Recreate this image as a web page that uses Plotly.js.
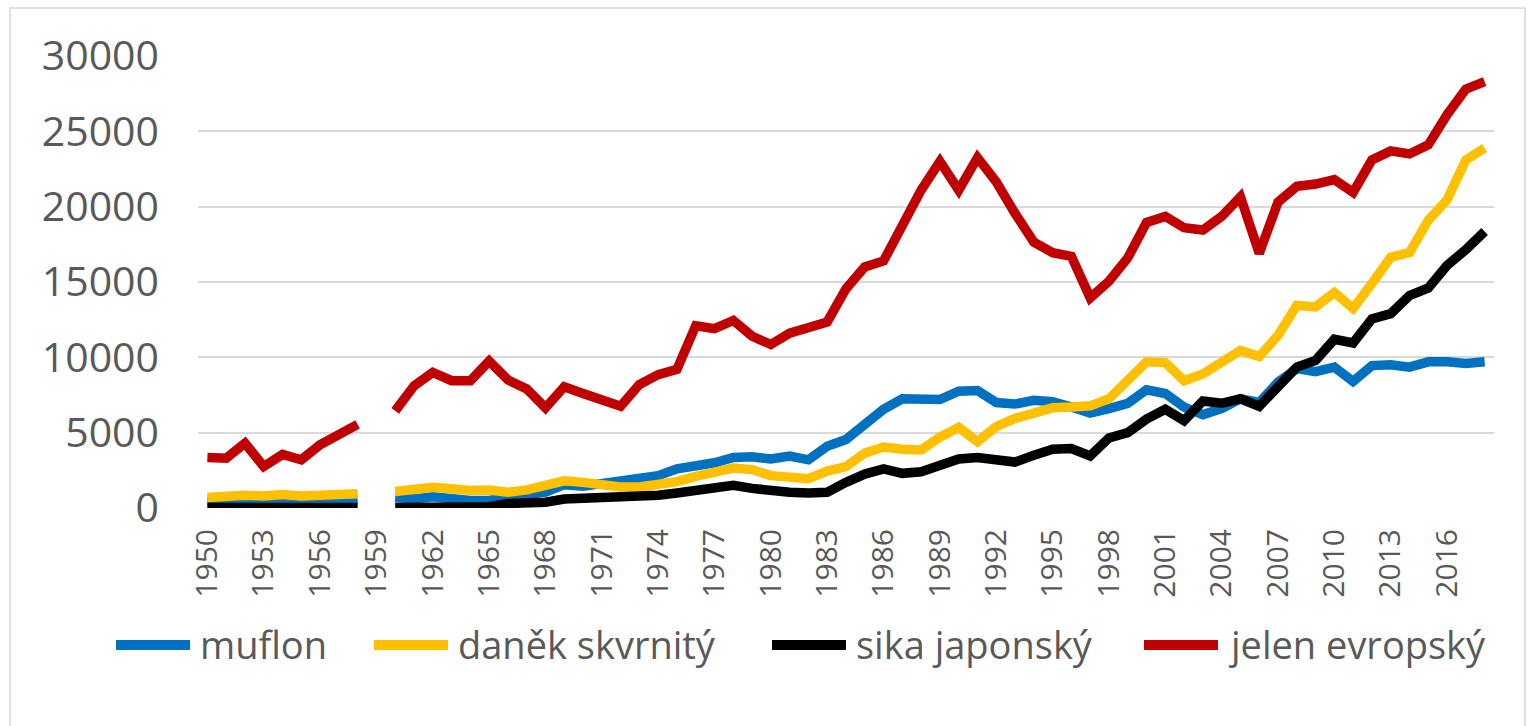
<!DOCTYPE html>
<html>
<head>
<meta charset="utf-8">
<script src="https://cdn.plot.ly/plotly-3.0.1.min.js"></script>
<style>
  html, body { margin: 0; padding: 0; background: #ffffff; }
  #chart { width: 1533px; height: 726px; }
</style>
</head>
<body>
<div id="chart"></div>
<script>
// Categories (years); 1959 has no data
var years = [1950,1951,1952,1953,1954,1955,1956,1957,1958,1959,
             1960,1961,1962,1963,1964,1965,1966,1967,1968,1969,
             1970,1971,1972,1973,1974,1975,1976,1977,1978,1979,
             1980,1981,1982,1983,1984,1985,1986,1987,1988,1989,
             1990,1991,1992,1993,1994,1995,1996,1997,1998,1999,
             2000,2001,2002,2003,2004,2005,2006,2007,2008,2009,
             2010,2011,2012,2013,2014,2015,2016,2017,2018];

var tickYears = [1950,1953,1956,1959,1962,1965,1968,1971,1974,1977,1980,1983,
                 1986,1989,1992,1995,1998,2001,2004,2007,2010,2013,2016];

var yTicks = [0, 5000, 10000, 15000, 20000, 25000, 30000];

var seriesNames = ["muflon", "daněk skvrnitý", "sika japonský", "jelen evropský"];
var seriesColors = ["#0070C0", "#FFC000", "#000000", "#C00000"];

var muflon = [400,450,500,450,500,450,500,500,550,null,
              700,600,750,600,500,500,750,900,1050,1550,
              1450,1650,1850,2050,2150,2600,2750,3000,3350,3400,
              3250,3450,3200,4100,4550,5550,6550,7250,7250,7200,
              7750,7800,7000,6900,7150,7050,6700,6300,6600,6950,
              7850,7600,6700,6200,6600,7250,7000,8350,9250,9050,
              9350,8400,9450,9500,9350,9700,9700,9600,9700];

var danek = [700,850,850,800,900,800,850,900,950,null,
             1100,1250,1380,1280,1160,1200,1050,1200,1450,1800,
             1700,1500,1400,1400,1500,1750,2100,2400,2650,2550,
             2150,2050,1950,2450,2750,3650,4050,3900,3850,4700,
             5350,4400,5400,5950,6350,6650,6700,6780,7250,8450,
             9700,9650,8450,8900,9650,10450,10050,11450,13450,13350,
             14300,13250,14900,16650,16950,19100,20450,23100,23900];

var sika = [30,30,30,30,30,30,30,30,30,null,
            30,30,40,40,50,80,300,350,380,600,
            620,650,680,750,850,1000,1150,1350,1500,1300,
            1100,1050,1000,1050,1700,2250,2600,2300,2400,2900,
            3250,3350,3250,3050,3500,3900,3950,3450,4650,5000,
            5900,6550,5800,7100,6950,7250,6750,8150,9350,9800,
            11200,10950,12550,12900,14100,14600,16100,17150,18350];

var jelen = [3350,3300,4300,2750,3550,3200,4200,4850,5550,null,
             6450,8100,9000,8450,8450,9750,8500,7900,6650,8050,
             7600,7100,6750,8200,8850,9200,12100,11900,12450,11400,
             10850,11600,11950,12350,14550,16000,16400,18650,21100,23000,
             21100,23250,21650,19550,17650,16950,16700,13950,15050,16600,
             18950,19350,18600,18450,19350,20650,16900,20300,21350,21500,
             21800,20950,23100,23700,23500,24100,26100,27800,28300];

var seriesValues = [muflon, danek, sika, jelen];

var W = 1533, H = 726;
var M = { l: 198, r: 39, t: 56, b: 218 };
var plotW = W - M.l - M.r, plotH = H - M.t - M.b;
function px2x(px) { return (px - M.l) / plotW; }
function py2y(py) { return (H - M.b - py) / plotH; }

var xCats = years.map(String);
var traces = seriesValues.map(function (vals, i) {
  return {
    type: "scatter",
    mode: "lines",
    name: seriesNames[i],
    x: xCats,
    y: vals,
    connectgaps: false,
    line: { color: seriesColors[i], width: 9.5, shape: "linear" },
    hoverinfo: "x+y+name"
  };
});

var fontFam = "'Open Sans', 'Noto Sans', 'DejaVu Sans', sans-serif";

// custom legend (positions in pixels)
var legendSwatchStart = [112, 370, 768, 1140];
var legendSwatchLen = 82;
var legendPY = 645;
var shapes = [{
  type: "rect",
  xref: "paper", yref: "paper",
  x0: px2x(10), x1: px2x(1525), y0: py2y(760), y1: py2y(8),
  line: { color: "#d9d9d9", width: 1.5 },
  fillcolor: "rgba(0,0,0,0)",
  layer: "below"
}];
var annotations = [];
seriesNames.forEach(function (nm, i) {
  var s = legendSwatchStart[i];
  shapes.push({
    type: "line", xref: "paper", yref: "paper",
    x0: px2x(s + 4), x1: px2x(s + legendSwatchLen - 4),
    y0: py2y(legendPY), y1: py2y(legendPY),
    line: { color: seriesColors[i], width: 10 }
  });
  annotations.push({
    xref: "paper", yref: "paper",
    x: px2x(s + legendSwatchLen + 4), y: py2y(legendPY - 1),
    xanchor: "left", yanchor: "middle",
    text: nm, showarrow: false,
    font: { family: fontFam, size: 38, color: "#595959" }
  });
});

var layout = {
  width: W,
  height: H,
  paper_bgcolor: "#ffffff",
  plot_bgcolor: "#ffffff",
  margin: M,
  showlegend: false,
  font: { family: fontFam, color: "#595959" },
  xaxis: {
    type: "category",
    range: [-0.5, years.length - 0.5],
    tickmode: "array",
    tickvals: tickYears.map(String),
    ticktext: tickYears.map(String),
    tickangle: -90,
    tickfont: { family: fontFam, size: 30, color: "#595959" },
    showgrid: false,
    zeroline: false,
    showline: false,
    ticks: "",
    ticklabelstandoff: 14,
    fixedrange: true
  },
  yaxis: {
    range: [0, 30000],
    tickmode: "array",
    tickvals: yTicks,
    ticktext: yTicks.map(String),
    tickfont: { family: fontFam, size: 41, color: "#595959" },
    showgrid: true,
    gridcolor: "#d9d9d9",
    gridwidth: 2,
    zeroline: false,
    showline: false,
    ticks: "",
    ticklabelstandoff: 38,
    fixedrange: true
  },
  shapes: shapes,
  annotations: annotations
};

Plotly.newPlot("chart", traces, layout, { displayModeBar: false, staticPlot: true });
</script>
</body>
</html>
